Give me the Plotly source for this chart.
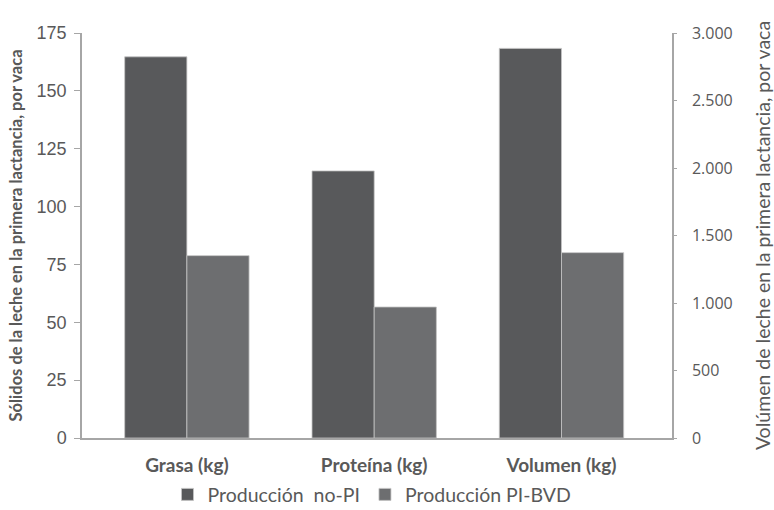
import plotly.graph_objects as go

categories = ["Grasa (kg)", "Proteína (kg)", "Volumen (kg)"]
solid_cats = ["Grasa (kg)", "Proteína (kg)"]
vol_cats = ["Volumen (kg)"]
nopi_solids = [164.7, 115.4]
pibvd_solids = [78.8, 56.6]
nopi_volume = [2886]
pibvd_volume = [1373]
left_ticks = [0, 25, 50, 75, 100, 125, 150, 175]
right_ticks = [0, 500, 1000, 1500, 2000, 2500, 3000]
right_ticktext = ["0", "500", "1.000", "1.500", "2.000", "2.500", "3.000"]
series_names = ["Producción\u00a0\u00a0no-PI", "Producción PI-BVD"]

c_dark = "#58595b"
c_light = "#6d6e70"
edge = dict(color="#c4c4c4", width=0.8)
W = 0.332

fig = go.Figure()
fig.add_trace(go.Bar(x=solid_cats, y=nopi_solids, name=series_names[0], legendgroup="a",
                     marker=dict(color=c_dark, line=edge), width=W, offset=-W, yaxis="y"))
fig.add_trace(go.Bar(x=solid_cats, y=pibvd_solids, name=series_names[1], legendgroup="b",
                     marker=dict(color=c_light, line=edge), width=W, offset=0, yaxis="y"))
fig.add_trace(go.Bar(x=vol_cats, y=nopi_volume, name=series_names[0], legendgroup="a", showlegend=False,
                     marker=dict(color=c_dark, line=edge), width=W, offset=-W, yaxis="y2"))
fig.add_trace(go.Bar(x=vol_cats, y=pibvd_volume, name=series_names[1], legendgroup="b", showlegend=False,
                     marker=dict(color=c_light, line=edge), width=W, offset=0, yaxis="y2"))

axis_col = "#a6a6a6"
txt = "#595959"
fig.update_layout(
    width=774, height=510,
    margin=dict(l=82, r=102, t=33, b=72, autoexpand=False),
    paper_bgcolor="white", plot_bgcolor="white",
    barmode="overlay",
    showlegend=True,
    legend=dict(orientation="h", x=0.4915, xanchor="center", y=-0.14, yanchor="middle",
                font=dict(family="Lato", size=19.5, color=txt), itemwidth=30,
                bgcolor="rgba(0,0,0,0)", traceorder="normal"),
    xaxis=dict(type="category", categoryorder="array", categoryarray=categories,
               range=[-0.56, 2.59], showline=True, linecolor=axis_col, linewidth=1.5,
               ticks="", showgrid=False, automargin=False, ticklabelstandoff=9,
               tickfont=dict(family="Lato", size=19, color=txt, weight="bold")),
    yaxis=dict(range=[0, 175], tickvals=left_ticks, showline=True, linecolor=axis_col,
               linewidth=1.5, ticks="outside", ticklen=6, tickcolor=axis_col, showgrid=False,
               zeroline=False, automargin=False, ticklabelstandoff=4,
               tickfont=dict(family="Liberation Sans", size=18, color=txt),
               title=dict(text="Sólidos de la leche en la primera lactancia, por vaca",
                          font=dict(family="Lato", size=16.5, color=txt, weight="bold"),
                          standoff=10)),
    yaxis2=dict(range=[0, 3000], tickvals=right_ticks, ticktext=right_ticktext, overlaying="y",
                side="right", showline=True, linecolor=axis_col, linewidth=1.5,
                ticks="outside", ticklen=3, tickcolor=axis_col, showgrid=False, zeroline=False,
                automargin=False, ticklabelstandoff=12,
                tickfont=dict(family="Open Sans", size=16, color=txt),
                title=dict(text="Volúmen de leche en la primera lactancia, por vaca",
                           font=dict(family="Lato", size=19.5, color=txt), standoff=29)),
)

fig.write_html("out.html", config={"displayModeBar": False},
               post_script="document.body.style.margin='0';")
